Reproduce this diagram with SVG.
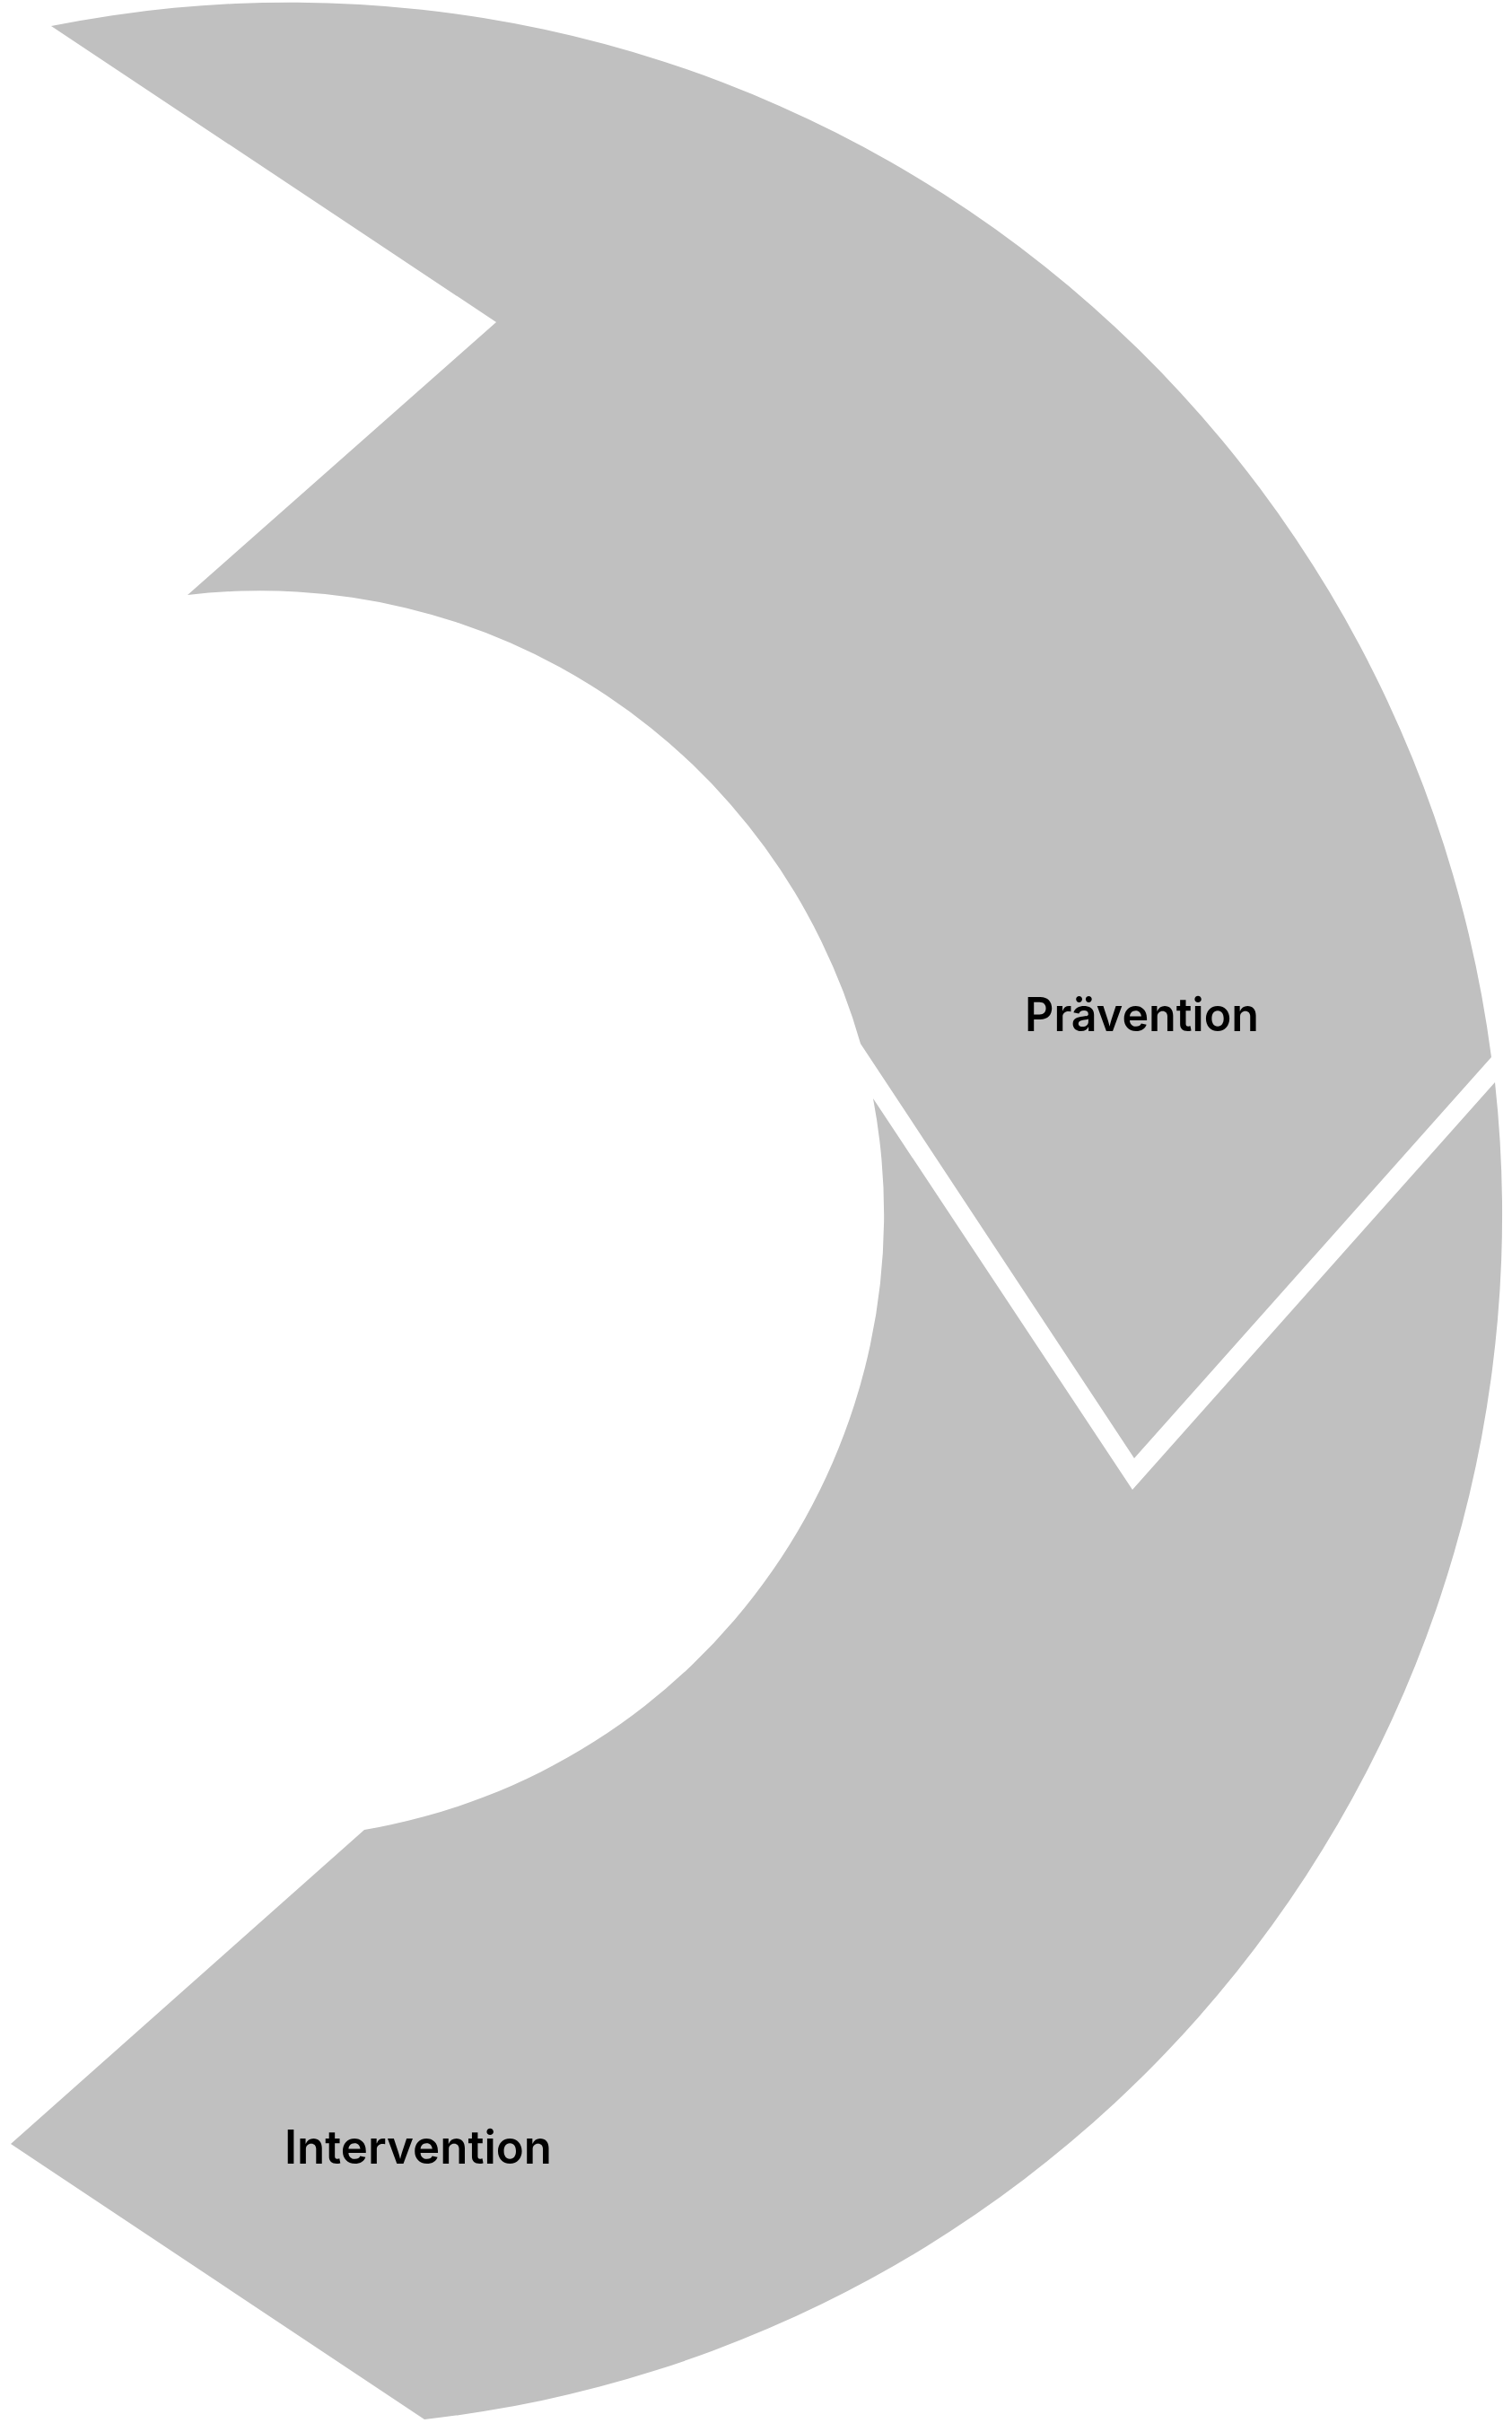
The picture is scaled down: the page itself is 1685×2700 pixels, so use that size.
<svg xmlns="http://www.w3.org/2000/svg" width="1685" height="2700" viewBox="0 0 1685 2700">
<style>
.seg{fill:#c0c0c0;stroke:none}
.lbl{font-family:Inter,"Noto Sans","Liberation Sans",sans-serif;font-weight:600;font-size:52px;fill:#000}
</style>
<rect width="1685" height="2700" fill="#ffffff"/>
<g id="praevention">
<path class="seg" d="M57,29 A1350.9,1350.9 0 0 1 1662,1178 L1264,1625 L959,1163 A695.3,695.3 0 0 0 209,663 L553,359 Z"/>
<text class="lbl" x="1142" y="1149" textLength="261" lengthAdjust="spacingAndGlyphs">Prävention</text>
</g>
<g id="intervention">
<path class="seg" d="M973,1224 A695.3,695.3 0 0 1 406,2039 L12,2389 L473,2696 A1350.9,1350.9 0 0 0 1666,1206 L1262,1660 Z"/>
<text class="lbl" x="317" y="2411" textLength="298" lengthAdjust="spacingAndGlyphs">Intervention</text>
</g>
</svg>
